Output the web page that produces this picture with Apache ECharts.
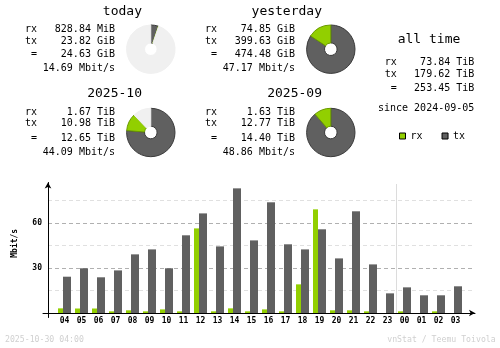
<!DOCTYPE html>
<html><head><meta charset="utf-8">
<script src="https://cdn.jsdelivr.net/npm/echarts@6/dist/echarts.min.js"></script>
<style>html,body{margin:0;padding:0;background:#fff}#c{width:500px;height:348px}</style>
</head><body><div id="c"></div><script>
// ---- data ----
const hours = ['04','05','06','07','08','09','10','11','12','13','14','15','16','17','18','19','20','21','22','23','00','01','02','03'];
const rxRate = [3.1,3.0,3.0,1.1,1.8,1.1,2.4,1.1,56.4,1.1,3.1,1.1,2.4,1.1,19.1,69.1,1.8,1.8,1.1,0,1.1,0,1.1,0];
const txRate = [24.2,29.8,23.8,28.4,39.1,42.4,29.8,51.8,66.4,44.4,83.1,48.4,73.8,45.8,42.4,55.8,36.4,67.8,32.4,13.1,17.1,11.8,11.8,17.8];
const yLabelValues = [30, 60];
const yAxisUnit = 'Mbit/s';
const rowLabels = ['rx', 'tx', '='];
const todayText = ['828.84 MiB', '23.82 GiB', '24.63 GiB', '14.69 Mbit/s'];
const yesterdayText = ['74.85 GiB', '399.63 GiB', '474.48 GiB', '47.17 Mbit/s'];
const monthText = ['1.67 TiB', '10.98 TiB', '12.65 TiB', '44.09 Mbit/s'];
const prevMonthText = ['1.63 TiB', '12.77 TiB', '14.40 TiB', '48.86 Mbit/s'];
const allTimeText = ['73.84 TiB', '179.62 TiB', '253.45 TiB'];
const sinceText = 'since 2024-09-05';
const titles = ['today', 'yesterday', '2025-10', '2025-09', 'all time'];
// pie values [rx, tx] in common units (GiB for days, TiB for months)
const todayPie = [0.8094, 23.82];
const yesterdayPie = [74.85, 399.63];
const monthPie = [1.67, 10.98];
const prevMonthPie = [1.63, 12.77];
const footerLeft = '2025-10-30 04:00';
const footerRight = 'vnStat / Teemu Toivola';

// ---- styles ----
const RX = '#92cf00', RXD = '#6b9a00', TX = '#606060', TXD = '#3a3a3a', EMPTY = '#f0f0f0';
const MONO = "'DejaVu Sans Mono', monospace";

function pieData(v, full) {
  const items = [
    {name: 'tx', value: v[1], itemStyle: {color: TX, borderColor: TXD}},
    {name: 'rx', value: v[0], itemStyle: {color: RX, borderColor: RXD}}
  ];
  const empty = full - v[0] - v[1];
  if (empty > 1e-9) items.push({name: 'empty', value: empty, itemStyle: {color: EMPTY, borderColor: EMPTY}});
  return items;
}
function sum(a) { return a[0] + a[1]; }
const dayFull = Math.max(sum(todayPie), sum(yesterdayPie));
const monthFull = Math.max(sum(monthPie), sum(prevMonthPie));

function pie(center, data) {
  return {type: 'pie', center: center, radius: [6.3, 24.2], startAngle: 90, clockwise: true,
    silent: true, animation: false, label: {show: false}, labelLine: {show: false},
    itemStyle: {borderWidth: 1}, emphasis: {disabled: true}, data: data};
}

function txt(x, y, s, font, align, color) {
  return {type: 'text', x: x, y: y, silent: true,
    style: {text: s, font: font, fill: color || '#000',
      textAlign: align, align: align, textVerticalAlign: 'middle', verticalAlign: 'middle'}};
}
const F13 = '13px ' + MONO, F10 = '10px ' + MONO;

const graphics = [];
function block(dx, titleY, rowsY, title, vals) {
  graphics.push(txt(142 + dx, titleY, title, F13, 'right'));
  for (let i = 0; i < 3; i++) {
    graphics.push(txt(37 + dx, rowsY[i], rowLabels[i], F10, 'right'));
    graphics.push(txt(115 + dx, rowsY[i], vals[i], F10, 'right'));
  }
  graphics.push(txt(115 + dx, rowsY[3], vals[3], F10, 'right'));
}
const topRows = [29.3, 41.5, 54.3, 68.8];
const botRows = [112.5, 123.5, 138.3, 152.3];
block(0, 12, topRows, titles[0], todayText);
block(180, 12, topRows, titles[1], yesterdayText);
block(0, 93.8, botRows, titles[2], monthText);
block(180, 93.8, botRows, titles[3], prevMonthText);
graphics.push(txt(429, 40, titles[4], F13, 'center'));
const atRows = [62.5, 74.2, 88];
for (let i = 0; i < 3; i++) {
  graphics.push(txt(396.7, atRows[i], rowLabels[i], F10, 'right'));
  graphics.push(txt(474.3, atRows[i], allTimeText[i], F10, 'right'));
}
graphics.push(txt(474.3, 108.3, sinceText, F10, 'right'));
graphics.push(txt(5, 340, footerLeft, '8.2px ' + MONO, 'left', '#d0d0d0'));
graphics.push(txt(495.7, 340, footerRight, '8.2px ' + MONO, 'right', '#d0d0d0'));
const yName = txt(14.5, 243.3, yAxisUnit, 'bold 8px ' + MONO, 'center');
yName.rotation = Math.PI / 2;
graphics.push(yName);

// day boundary line: only the band edge before '00' is coloured
const dayBoundary = hours.indexOf('00');
const boundaryColors = [];
for (let i = 0; i <= hours.length; i++) boundaryColors.push(i === dayBoundary ? '#dcdcdc' : 'rgba(0,0,0,0)');

const chart = echarts.init(document.getElementById('c'), null, {renderer: 'canvas'});
chart.setOption({
  animation: false,
  backgroundColor: '#fff',
  legend: {data: ['rx', 'tx'], left: 399, top: 131, padding: 0, itemGap: 19,
    icon: 'rect', itemWidth: 6, itemHeight: 6, selectedMode: false,
    itemStyle: {borderColor: '#000', borderWidth: 1},
    textStyle: {fontFamily: MONO, fontSize: 10, color: '#000'}},
  grid: [
    {left: 43, top: 182.5, width: 432, height: 135},
    {left: 48, top: 178, width: 425, height: 135},
    {left: 56, top: 184, width: 408, height: 129}
  ],
  xAxis: [
    {type: 'value', gridIndex: 0, min: -5, max: 427,
      axisLine: {show: true, onZero: true, symbol: ['none', 'arrow'], symbolSize: [5, 6], lineStyle: {color: '#000', width: 1}},
      axisTick: {show: false}, axisLabel: {show: false}, splitLine: {show: false}},
    {type: 'value', gridIndex: 1, min: 0, max: 1, show: false},
    {type: 'category', gridIndex: 2, data: hours, boundaryGap: true,
      axisLine: {show: false}, axisTick: {show: false},
      axisLabel: {interval: 0, margin: 4, fontFamily: MONO, fontSize: 8, fontWeight: 'bold', color: '#000'},
      splitLine: {show: true, interval: 0,
        lineStyle: {color: boundaryColors, width: 1, type: 'solid'}}}
  ],
  yAxis: [
    {type: 'value', gridIndex: 0, min: -3, max: 87,
      axisLine: {show: true, onZero: true, symbol: ['none', 'arrow'], symbolSize: [5, 6], lineStyle: {color: '#000', width: 1}},
      axisTick: {show: false}, axisLabel: {show: false}, splitLine: {show: false}},
    {type: 'value', gridIndex: 1, min: 0, max: 90, interval: 15,
      axisLine: {show: false}, axisTick: {show: false},
      axisLabel: {margin: 6, fontFamily: MONO, fontSize: 8, fontWeight: 'bold', color: '#000',
        formatter: function (v) { return yLabelValues.indexOf(v) >= 0 ? String(v) : ''; }},
      splitLine: {show: true, lineStyle: {type: [4, 3], width: 1,
        color: ['rgba(0,0,0,0)', '#e0e0e0', '#b0b0b0', '#e0e0e0', '#b0b0b0', '#e0e0e0', 'rgba(0,0,0,0)']}}},
    {type: 'value', gridIndex: 2, min: 0, max: 86, show: false}
  ],
  series: [
    {name: 'rx', type: 'bar', xAxisIndex: 2, yAxisIndex: 2, data: rxRate, barWidth: 5, barGap: 0,
      itemStyle: {color: RX}, silent: true},
    {name: 'tx', type: 'bar', xAxisIndex: 2, yAxisIndex: 2, data: txRate, barWidth: 8, barGap: 0,
      itemStyle: {color: TX}, silent: true},
    pie([150.8, 49.2], pieData(todayPie, dayFull)),
    pie([330.8, 49.2], pieData(yesterdayPie, dayFull)),
    pie([150.8, 132.5], pieData(monthPie, monthFull)),
    pie([330.8, 132.5], pieData(prevMonthPie, monthFull))
  ],
  graphic: graphics
});
</script></body></html>
